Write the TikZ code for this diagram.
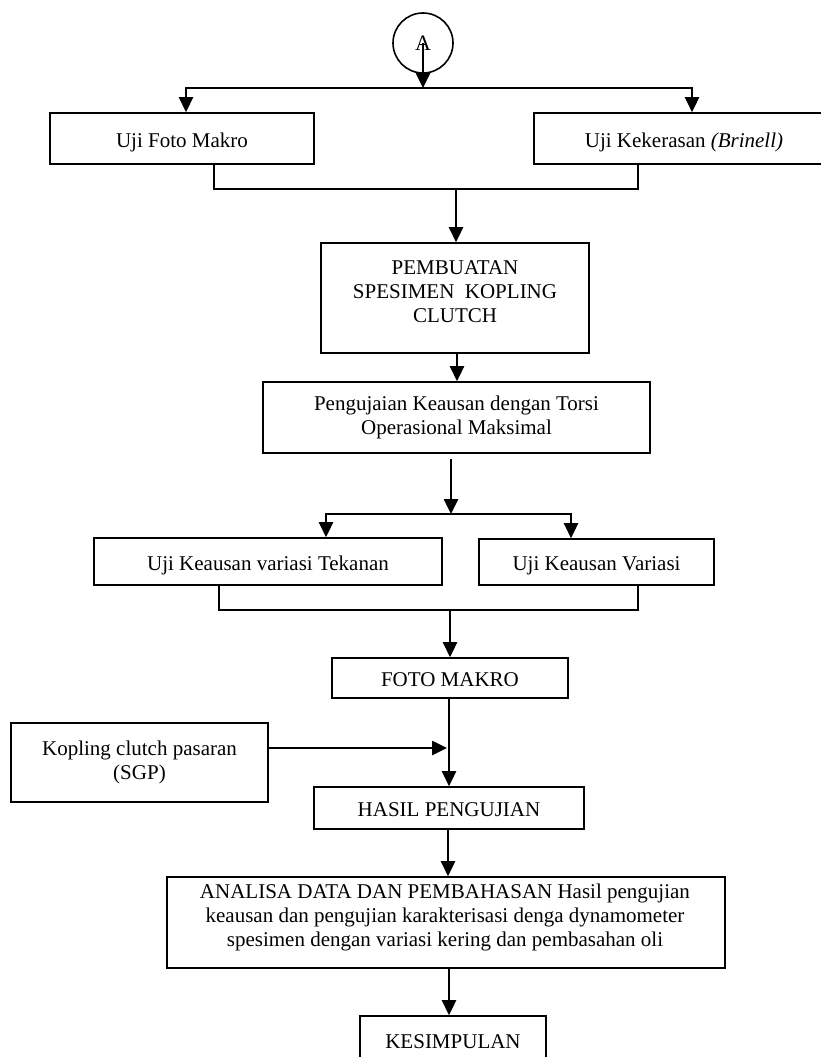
\documentclass[tikz,border=0pt]{standalone}
\usepackage{fontspec}
\setmainfont{Liberation Serif}
\usetikzlibrary{arrows.meta}
\begin{document}
\begin{tikzpicture}[x=1pt,y=-1pt,
  box/.style={draw, line width=1.6pt, inner sep=0pt, font=\fontsize{21}{24}\selectfont, align=center},
  one/.style={text height=19pt, text depth=2pt},
  txt/.style={inner sep=0pt, font=\fontsize{21}{24}\selectfont, align=center},
  tip/.tip={Triangle[length=15pt,width=14pt]},
  arr/.style={line width=2.6pt, -tip},
  arrs/.style={line width=2.6pt, tip-tip},
  ln/.style={line width=1.9pt},
  ]
\useasboundingbox (0,0) rectangle (821,1057);
% nodes
\node[box, circle, minimum size=60pt, font=\fontsize{22}{24}\selectfont] (circ) at (423,43) {A};
\node[box, one, minimum width=264pt, minimum height=51pt] (b1) at (182,138.5) {Uji Foto Makro};
\node[box, one, minimum width=300pt, minimum height=51pt] (b2) at (684,138.5) {Uji Kekerasan \textit{(Brinell)}};
\node[box, minimum width=268pt, minimum height=110pt] (b3) at (455,298) {};
\node[txt] (b3t) at (455,292) {PEMBUATAN\\SPESIMEN\ \ KOPLING\\CLUTCH};
\node[box, minimum width=387pt, minimum height=71pt] (b4) at (456.5,417.5) {Pengujaian Keausan dengan Torsi\\Operasional Maksimal};
\node[box, one, minimum width=348pt, minimum height=47pt] (b5) at (268,561.5) {Uji Keausan variasi Tekanan};
\node[box, one, minimum width=235pt, minimum height=46pt] (b6) at (596.5,562) {Uji Keausan Variasi};
\node[box, one, minimum width=236pt, minimum height=40pt] (b7) at (450,678) {FOTO MAKRO};
\node[box, minimum width=257pt, minimum height=79pt] (kop) at (139.5,762.5) {Kopling clutch pasaran\\(SGP)};
\node[box, one, minimum width=270pt, minimum height=42pt] (b8) at (449,808) {HASIL PENGUJIAN};
\node[box, minimum width=558pt, minimum height=91pt] (ana) at (446,922.5) {};
\node[txt] (anat) at (445,917) {ANALISA DATA DAN PEMBAHASAN Hasil pengujian\\keausan dan pengujian karakterisasi denga dynamometer\\spesimen dengan variasi kering dan pembasahan oli};
\node[box, one, minimum width=186pt, minimum height=48pt] (kes) at (453,1040) {KESIMPULAN};
% coordinates
\coordinate (t1) at (186,88);
\coordinate (t2) at (692,88);
\coordinate (tm) at (423,88);
\coordinate (j1) at (214,189);
\coordinate (j2) at (638,189);
\coordinate (jm) at (456,189);
\coordinate (c1) at (457,0);
\coordinate (m0) at (451,459);
\coordinate (mm) at (451,514);
\coordinate (m1) at (326,514);
\coordinate (m2) at (571,514);
\coordinate (k1) at (219,610);
\coordinate (k2) at (638,610);
\coordinate (km) at (450,610);
\coordinate (c2) at (449,0);
\coordinate (ka) at (447,748);
\coordinate (c3) at (448,0);
\coordinate (c4) at (449,0);
% connectors
\draw[arr] (circ.center) -- (tm);
\draw[arrs] (t1 |- b1.north) -- (t1) -- (t2) -- (t2 |- b2.north);
\draw[ln] (j1 |- b1.south) -- (j1) -- (j2) -- (j2 |- b2.south);
\draw[arr] (jm) -- (jm |- b3.north);
\draw[arr] (c1 |- b3.south) -- (c1 |- b4.north);
\draw[arr] (m0) -- (mm);
\draw[arrs] (m1 |- b5.north) -- (m1) -- (m2) -- (m2 |- b6.north);
\draw[ln] (k1 |- b5.south) -- (k1) -- (k2) -- (k2 |- b6.south);
\draw[arr] (km) -- (km |- b7.north);
\draw[arr] (c2 |- b7.south) -- (c2 |- b8.north);
\draw[arr] (ka -| kop.east) -- (ka);
\draw[arr] (c3 |- b8.south) -- (c3 |- ana.north);
\draw[arr] (c4 |- ana.south) -- (c4 |- kes.north);
\end{tikzpicture}
\end{document}
